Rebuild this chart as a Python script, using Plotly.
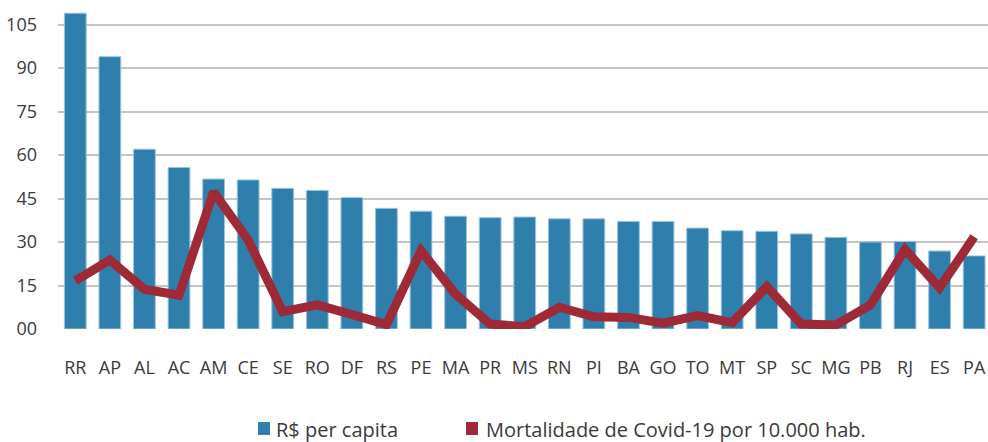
import plotly.graph_objects as go

estados = ["RR", "AP", "AL", "AC", "AM", "CE", "SE", "RO", "DF", "RS", "PE", "MA", "PR", "MS",
           "RN", "PI", "BA", "GO", "TO", "MT", "SP", "SC", "MG", "PB", "RJ", "ES", "PA"]
rs_per_capita = [108.9, 93.9, 62.0, 55.7, 51.7, 51.4, 48.5, 47.8, 45.3, 41.6, 40.6, 38.9, 38.4, 38.6,
                 38.0, 38.0, 37.1, 37.1, 34.8, 33.9, 33.7, 32.8, 31.6, 30.0, 30.2, 26.9, 25.2]
mortalidade = [16.6, 23.8, 13.7, 11.7, 47.3, 30.7, 6.0, 8.3, 5.0, 1.5, 27.0, 12.0, 1.7, 0.8,
               7.5, 4.2, 4.0, 2.0, 4.6, 2.2, 14.6, 1.7, 1.4, 8.3, 27.4, 14.2, 31.8]
y_ticks = [0, 15, 30, 45, 60, 75, 90, 105]
y_tick_text = ["00", "15", "30", "45", "60", "75", "90", "105"]
legend_names = ["R$ per capita", "Mortalidade de Covid-19 por 10.000 hab."]

BLUE = "#2F7FAD"
RED = "#9E2937"
TXT = "#3A3A3A"
FONT = "'Open Sans', Lato, sans-serif"

W, H = 988, 442
L, R, T, B = 58, 0, 10, 113
PW, PH = W - L - R, H - T - B


def px_x(x):
    return (x - L) / PW


def px_y(y):
    return (H - B - y) / PH


fig = go.Figure()
fig.add_trace(go.Bar(
    x=estados, y=rs_per_capita, name=legend_names[0], showlegend=False,
    marker=dict(color=BLUE, line=dict(color="#9CC3DD", width=1)),
))
fig.add_trace(go.Scatter(
    x=estados, y=mortalidade, mode="lines", name=legend_names[1], showlegend=False,
    line=dict(color=RED, width=9),
))

# manual legend (square swatches like the reference)
legend_items = [(258, 275, BLUE, legend_names[0]), (466, 485, RED, legend_names[1])]
for sx, tx, col, name in legend_items:
    fig.add_shape(type="rect", xref="paper", yref="paper",
                  x0=px_x(sx), x1=px_x(sx + 12), y0=px_y(435), y1=px_y(422),
                  fillcolor=col, line=dict(width=0))
    fig.add_annotation(xref="paper", yref="paper", x=px_x(tx), y=px_y(429),
                       xanchor="left", yanchor="middle", text=name, showarrow=False,
                       borderpad=0, font=dict(size=20, color=TXT, family=FONT))

fig.update_layout(
    width=W, height=H,
    margin=dict(l=L, r=R, t=T, b=B),
    plot_bgcolor="white", paper_bgcolor="white",
    bargap=0.37,
    font=dict(family=FONT, size=18, color=TXT),
    showlegend=False,
)
fig.update_xaxes(
    range=[-0.5, 26.4], showgrid=False, showline=False, zeroline=False,
    ticks="", tickfont=dict(size=18, color=TXT), ticklabelstandoff=26,
)
fig.update_yaxes(
    range=[0, 110], tickvals=y_ticks, ticktext=y_tick_text,
    showgrid=True, gridcolor="#C4C4C4", gridwidth=1.5,
    zeroline=False, showline=False, ticks="",
    tickfont=dict(size=18, color=TXT), ticklabelstandoff=20,
)

fig.write_html("out.html", config={"displayModeBar": False},
               post_script="document.body.style.margin='0';document.body.style.overflow='hidden';")
